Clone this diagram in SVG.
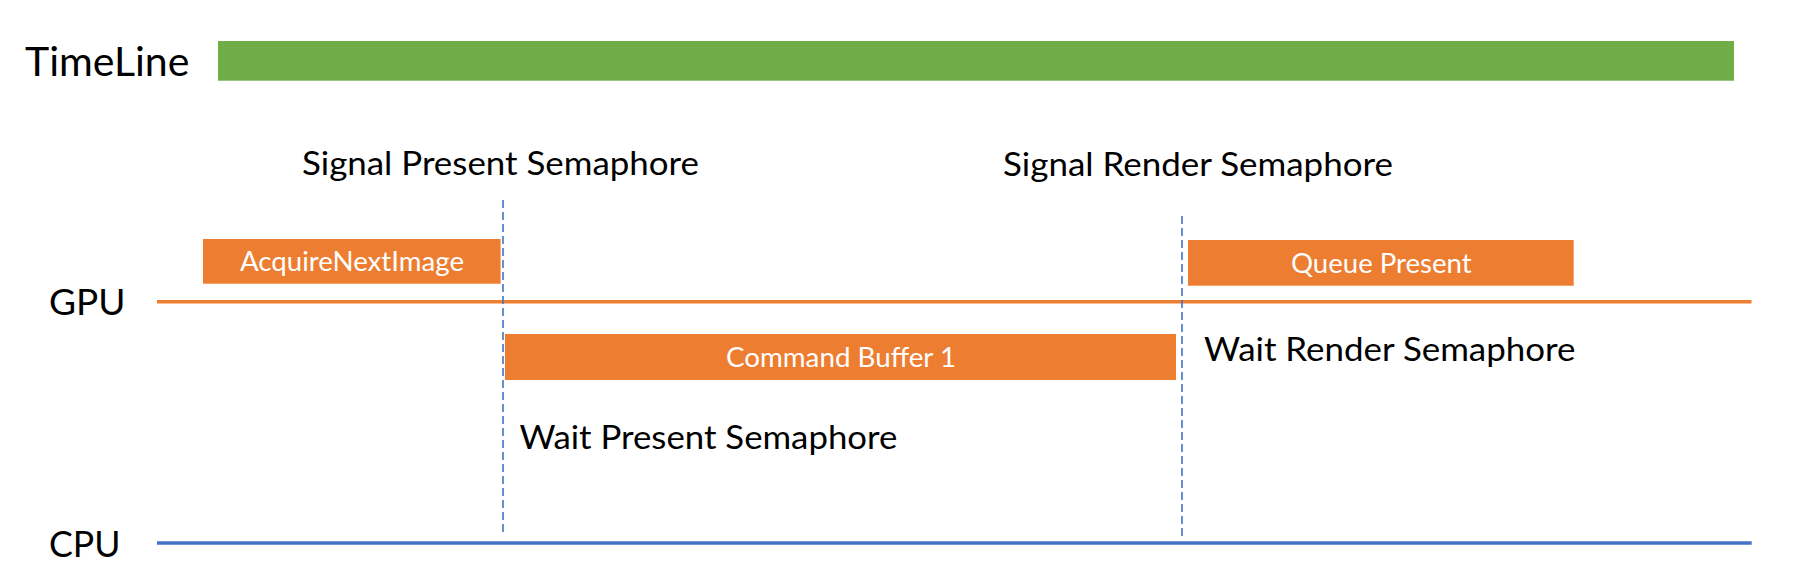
<svg xmlns="http://www.w3.org/2000/svg" width="1802" height="584" viewBox="0 0 1802 584">
<style>
.lbl{font-family:Lato,"Liberation Sans",sans-serif;fill:#000}
.box{fill:#ED7D31}
.btxt{font-family:Lato,"Liberation Sans",sans-serif;fill:#fff;font-size:26px}
.dash{stroke:#4472C4;stroke-width:1.6;stroke-dasharray:8 4;fill:none}
</style>
<rect width="1802" height="584" fill="#fff"/>
<g id="timeline">
<text class="lbl" x="25" y="76" font-size="41" textLength="164.5" lengthAdjust="spacingAndGlyphs">TimeLine</text>
<rect x="218" y="41" width="1516" height="39.7" fill="#70AD47"/>
</g>
<g id="gpu">
<text class="lbl" x="49" y="315" font-size="36" textLength="76.5" lengthAdjust="spacingAndGlyphs">GPU</text>
<line x1="157" y1="301.7" x2="1751.5" y2="301.7" stroke="#ED7D31" stroke-width="3.6"/>
</g>
<g id="cpu">
<text class="lbl" x="49" y="556.7" font-size="37" textLength="71.5" lengthAdjust="spacingAndGlyphs">CPU</text>
<line x1="157" y1="543" x2="1751.7" y2="543" stroke="#4472C4" stroke-width="3.7"/>
</g>
<g id="signal-present">
<text class="lbl" x="302" y="175" font-size="32.5" textLength="397" lengthAdjust="spacingAndGlyphs">Signal Present Semaphore</text>
</g>
<g id="signal-render">
<text class="lbl" x="1003" y="176" font-size="32.5" textLength="390" lengthAdjust="spacingAndGlyphs">Signal Render Semaphore</text>
</g>
<g id="acquire">
<rect class="box" x="203" y="239" width="297.6" height="44.7"/>
<text class="btxt" x="240" y="270.7" textLength="224" lengthAdjust="spacingAndGlyphs">AcquireNextImage</text>
</g>
<g id="cmdbuf">
<rect class="box" x="505" y="334" width="671" height="46"/>
<text class="btxt" x="726" y="366.7" textLength="230" lengthAdjust="spacingAndGlyphs">Command Buffer 1</text>
</g>
<g id="queue">
<rect class="box" x="1188" y="240" width="385.7" height="45.7"/>
<text class="btxt" x="1291" y="272.7" textLength="180.6" lengthAdjust="spacingAndGlyphs">Queue Present</text>
</g>
<g id="wait-present">
<text class="lbl" x="519.4" y="449" font-size="32.5" textLength="378" lengthAdjust="spacingAndGlyphs">Wait Present Semaphore</text>
</g>
<g id="wait-render">
<text class="lbl" x="1204" y="360.7" font-size="32.5" textLength="371.5" lengthAdjust="spacingAndGlyphs">Wait Render Semaphore</text>
</g>
<g id="connectors">
<line class="dash" x1="503" y1="200" x2="503" y2="536"/>
<line class="dash" x1="1182" y1="216" x2="1182" y2="538"/>
</g>
</svg>
